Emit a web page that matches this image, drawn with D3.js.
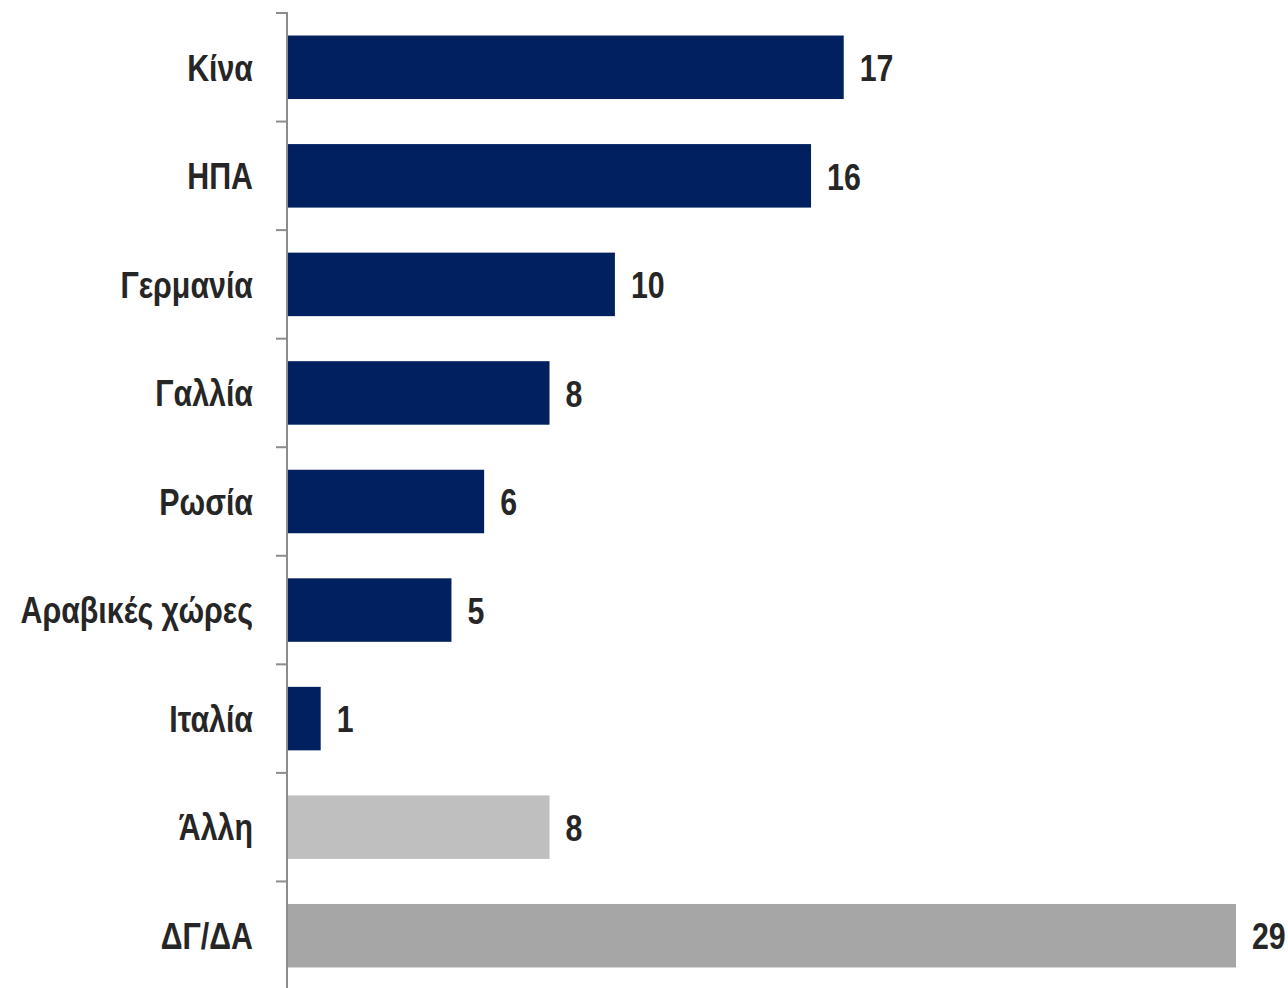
<!DOCTYPE html>
<html><head><meta charset="utf-8">
<script src="https://cdn.jsdelivr.net/npm/d3@7"></script>
<style>body{margin:0;background:#fff}svg{display:block}</style>
</head><body>
<svg id="c" width="1288" height="988"></svg>
<script>
const categories = ["Κίνα","ΗΠΑ","Γερμανία","Γαλλία","Ρωσία","Αραβικές χώρες","Ιταλία","Άλλη","ΔΓ/ΔΑ"];
const values = [17,16,10,8,6,5,1,8,29];
const barColors = ["#002060","#002060","#002060","#002060","#002060","#002060","#002060","#BFBFBF","#A6A6A6"];

const svg = d3.select("#c");
const font = "'Liberation Sans',Arial,sans-serif";
const fs = 37, sx = 0.82;
const x = d3.scaleLinear().domain([0, 29]).range([288, 1236]);
const y = d3.scaleBand().domain(categories).range([13, 990]).paddingInner(0.415).paddingOuter(0.2075);

// bars
svg.selectAll("rect.bar").data(categories).join("rect")
  .attr("x", x(0))
  .attr("y", d => y(d))
  .attr("width", (d,i) => x(values[i]) - x(0))
  .attr("height", y.bandwidth())
  .attr("fill", (d,i) => barColors[i]);

// value labels
svg.selectAll("text.val").data(categories).join("text")
  .attr("transform", (d,i) => `translate(${x(values[i]) + 16},${y(d) + y.bandwidth()/2}) scale(${sx},1)`)
  .attr("dy", "0.37em")
  .attr("font-family", font).attr("font-weight", "bold").attr("font-size", fs)
  .attr("fill", "#262626")
  .text((d,i) => values[i]);

// axis
const bounds = d3.range(categories.length + 1).map(i => 13 + i * (977 / categories.length));
const ax = svg.append("g");
ax.append("line").attr("x1", 287).attr("x2", 287).attr("y1", 12).attr("y2", 990)
  .attr("stroke", "#8c8c8c").attr("stroke-width", 2);
ax.selectAll("line.t").data(bounds).join("line")
  .attr("x1", 276).attr("x2", 287).attr("y1", d => d).attr("y2", d => d)
  .attr("stroke", "#8c8c8c").attr("stroke-width", 2);

// category labels
svg.selectAll("text.cat").data(categories).join("text")
  .attr("transform", d => `translate(253,${y(d) + y.bandwidth()/2}) scale(${sx},1)`)
  .attr("dy", "0.36em")
  .attr("text-anchor", "end")
  .attr("font-family", font).attr("font-weight", "bold").attr("font-size", fs)
  .attr("fill", "#262626")
  .text(d => d);
</script>
</body></html>
